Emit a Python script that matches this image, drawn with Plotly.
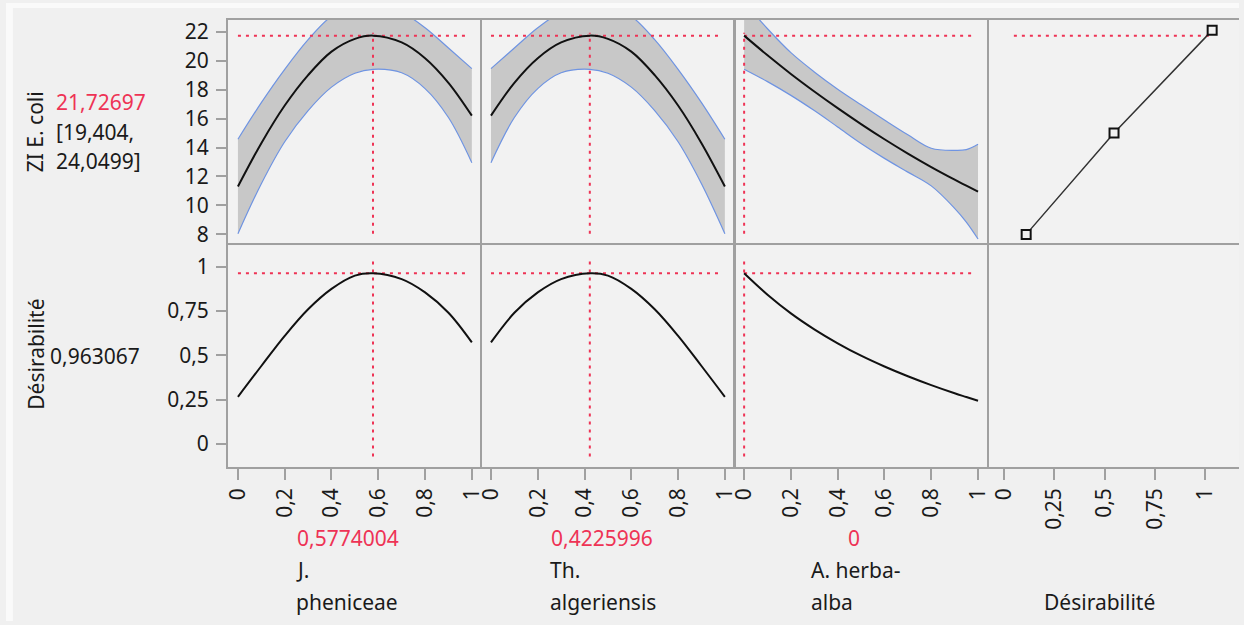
import plotly.graph_objects as go

# ---------------- data ----------------
J_CUR = 0.5774004
T_CUR = 0.4225996
A_CUR = 0.0
ZI_CUR = 21.72697
DES_CUR = 0.963067

# J. pheniceae profile (response ZI E. coli)
j_x = [0, 0.1, 0.2, 0.3, 0.4, 0.5, 0.5774, 0.7, 0.8, 0.9, 1.0]
j_mean = [11.31, 14.3, 16.9, 19.0, 20.62, 21.5, 21.727, 21.26, 20.17, 18.47, 16.2]
j_upper = [14.57, 17.1, 19.4, 21.45, 23.07, 23.87, 24.05, 23.36, 22.27, 20.87, 19.45]
j_lower = [8.05, 11.5, 14.4, 16.55, 18.17, 19.13, 19.40, 19.16, 18.07, 16.07, 12.95]
j_des = [0.266, 0.44, 0.61, 0.76, 0.875, 0.95, 0.963, 0.93, 0.855, 0.74, 0.573]

# Th. algeriensis profile
t_x = [0, 0.1, 0.2, 0.3, 0.4226, 0.5, 0.6, 0.7, 0.8, 0.9, 1.0]
t_mean = [16.2, 18.47, 20.17, 21.26, 21.727, 21.5, 20.62, 19.0, 16.9, 14.3, 11.31]
t_upper = [19.45, 20.87, 22.27, 23.36, 24.05, 23.87, 23.07, 21.45, 19.4, 17.1, 14.57]
t_lower = [12.95, 16.07, 18.07, 19.16, 19.40, 19.13, 18.17, 16.55, 14.4, 11.5, 8.05]
t_des = [0.573, 0.74, 0.855, 0.93, 0.963, 0.95, 0.875, 0.76, 0.61, 0.44, 0.266]

# A. herba-alba profile
a_x = [0, 0.1, 0.2, 0.3, 0.4, 0.5, 0.6, 0.7, 0.8, 0.9, 0.95, 1.0]
a_mean = [21.727, 20.37, 19.08, 17.87, 16.72, 15.62, 14.57, 13.58, 12.65, 11.78, 11.36, 10.95]
a_upper = [24.05, 22.2, 20.55, 19.22, 18.03, 16.95, 15.9, 14.88, 13.95, 13.8, 13.85, 14.22]
a_lower = [19.41, 18.55, 17.6, 16.55, 15.42, 14.28, 13.25, 12.3, 11.35, 9.8, 8.85, 7.68]
a_des = [0.963, 0.842, 0.737, 0.647, 0.568, 0.498, 0.437, 0.382, 0.332, 0.286, 0.265, 0.244]

# Desirability function (desirability vs response)
dfun_des = [0.111, 0.547, 1.034]
dfun_resp = [8, 15, 22.09]

# reference line spans
ZI_SPAN = [8.05, 21.93]
DES_SPAN = [-0.07, 1.05]
FAC_SPAN = [0, 0.99]
DFN_SPAN = [0.05, 1.034]

# tick labels
fac_ticks = [0, 0.2, 0.4, 0.6, 0.8, 1]
fac_ticktext = ["0", "0,2", "0,4", "0,6", "0,8", "1"]
des_ticks = [0, 0.25, 0.5, 0.75, 1]
des_ticktext = ["0", "0,25", "0,5", "0,75", "1"]
zi_ticks = [8, 10, 12, 14, 16, 18, 20, 22]
zi_ticktext = ["8", "10", "12", "14", "16", "18", "20", "22"]

label_line1 = ["J.", "Th.", "A. herba-", ""]
label_line2 = ["pheniceae", "algeriensis", "alba", "Désirabilité"]
factor_values = ["0,5774004", "0,4225996", "0"]

# ---------------- styling ----------------
W, H = 1244, 625
FONT = "Noto Sans"
FS = 21
BG = "#f0f0f0"
AXC = "#a0a0a0"
RED = "#ee3355"
BLUE = "#6f94e2"
BAND = "#c8c8c8"
TXT = "#1a1a1a"
DOT = "3px,5px"

XB = [223, 479, 735, 991, 1247]   # border line centres (px)
YB = [16, 244, 470]
xranges = [[-0.0424, 1.0339], [-0.0394, 1.0369], [-0.0369, 1.0394], [-0.0723, 1.1672]]
yranges = [[7.3854, 22.8195], [-0.1283, 1.121]]


def px(x):
    return x / W


def py(y):
    return 1 - y / H


fig = go.Figure()


def ax_names(idx):
    s = "" if idx == 1 else str(idx)
    return "x" + s, "y" + s, "xaxis" + s, "yaxis" + s


layout_axes = {}
for r in range(2):
    for c in range(4):
        idx = r * 4 + c + 1
        xn, yn, xk, yk = ax_names(idx)
        x0d, x1d = px(XB[c] + 1), min(1.0, px(XB[c + 1] - 1))
        xa = dict(domain=[x0d, x1d], anchor=yn, range=xranges[c],
                  showline=True, linecolor=AXC, linewidth=2, mirror=True,
                  showgrid=False, zeroline=False, fixedrange=True)
        if r == 1:
            xa.update(ticks="outside", ticklen=11, tickwidth=2, tickcolor=AXC,
                      tickangle=-90, tickfont=dict(family=FONT, size=FS, color=TXT),
                      tickmode="array",
                      tickvals=des_ticks if c == 3 else fac_ticks,
                      ticktext=des_ticktext if c == 3 else fac_ticktext)
        else:
            xa.update(ticks="", showticklabels=False)
        ya = dict(domain=[py(YB[r + 1] - 1), py(YB[r] + 1)], anchor=xn, range=yranges[r],
                  showline=True, linecolor=AXC, linewidth=2, mirror=(c != 3),
                  showgrid=False, zeroline=False, fixedrange=True)
        if c == 0:
            ya.update(ticks="outside", ticklen=10, tickwidth=2, tickcolor=AXC,
                      ticklabelstandoff=3,
                      tickfont=dict(family=FONT, size=FS, color=TXT), tickmode="array",
                      tickvals=zi_ticks if r == 0 else des_ticks,
                      ticktext=zi_ticktext if r == 0 else des_ticktext)
        else:
            ya.update(ticks="", showticklabels=False)
        layout_axes[xk] = xa
        layout_axes[yk] = ya


def add(trace, idx):
    xn, yn, _, _ = ax_names(idx)
    trace.update(xaxis=xn, yaxis=yn, showlegend=False, hoverinfo="skip")
    fig.add_trace(trace)


profiles = [
    (j_x, j_mean, j_upper, j_lower, j_des, J_CUR),
    (t_x, t_mean, t_upper, t_lower, t_des, T_CUR),
    (a_x, a_mean, a_upper, a_lower, a_des, A_CUR),
]

for c, (xs, mean, up, lo, des, cur) in enumerate(profiles):
    top = c + 1
    bot = c + 5
    add(go.Scatter(x=xs, y=lo, mode="lines", line=dict(color=BLUE, width=1.2, shape="spline")), top)
    add(go.Scatter(x=xs, y=up, mode="lines", fill="tonexty", fillcolor=BAND,
                   line=dict(color=BLUE, width=1.2, shape="spline")), top)
    add(go.Scatter(x=FAC_SPAN, y=[ZI_CUR, ZI_CUR], mode="lines",
                   line=dict(color=RED, width=2, dash=DOT)), top)
    add(go.Scatter(x=[cur, cur], y=ZI_SPAN, mode="lines",
                   line=dict(color=RED, width=2, dash=DOT)), top)
    add(go.Scatter(x=xs, y=mean, mode="lines", line=dict(color="#111111", width=2, shape="spline")), top)

    add(go.Scatter(x=FAC_SPAN, y=[DES_CUR, DES_CUR], mode="lines",
                   line=dict(color=RED, width=2, dash=DOT)), bot)
    add(go.Scatter(x=[cur, cur], y=DES_SPAN, mode="lines",
                   line=dict(color=RED, width=2, dash=DOT)), bot)
    add(go.Scatter(x=xs, y=des, mode="lines", line=dict(color="#111111", width=2, shape="spline")), bot)

# desirability function panel
add(go.Scatter(x=DFN_SPAN, y=[ZI_CUR, ZI_CUR], mode="lines",
               line=dict(color=RED, width=2, dash=DOT)), 4)
add(go.Scatter(x=dfun_des, y=dfun_resp, mode="lines+markers",
               line=dict(color="#333333", width=1.5),
               marker=dict(symbol="square", size=9, color=BG,
                           line=dict(color="#111111", width=2))), 4)
# empty bottom-right cell (keeps its axes drawn)
add(go.Scatter(x=[None], y=[None], mode="lines"), 8)

annotations = []


def ann(text, x, y, color=TXT, xanchor="center", angle=0):
    annotations.append(dict(text=text, x=px(x), y=py(y), xref="paper", yref="paper",
                            showarrow=False, xanchor=xanchor, yanchor="middle",
                            textangle=angle,
                            font=dict(family=FONT, size=FS, color=color)))


ann("ZI E. coli", 29, 130, angle=-90)
ann("21,72697", 48, 100, color=RED, xanchor="left")
ann("[19,404,", 48, 130, xanchor="left")
ann("24,0499]", 48, 160, xanchor="left")
ann("Désirabilité", 30, 355, angle=-90)
ann("0,963067", 42, 357, xanchor="left")

val_cx = [345, 601, 856]
for c in range(3):
    ann(factor_values[c], val_cx[c], 541, color=RED)
lab_left = [291, 547, 810, 1045]
for c in range(4):
    if label_line1[c]:
        ann(label_line1[c], lab_left[c], 573, xanchor="left")
    ann(label_line2[c], lab_left[c], 606, xanchor="left")

shapes = [
    dict(type="rect", xref="paper", yref="paper", x0=0, x1=px(7), y0=0, y1=1,
         fillcolor="#fafafa", line=dict(width=0), layer="below"),
    dict(type="rect", xref="paper", yref="paper", x0=0, x1=1, y0=py(5), y1=1,
         fillcolor="#fafafa", line=dict(width=0), layer="below"),
]

fig.update_layout(
    width=W, height=H, margin=dict(l=0, r=0, t=0, b=0),
    paper_bgcolor=BG, plot_bgcolor="#f2f2f2",
    annotations=annotations, shapes=shapes,
    font=dict(family=FONT, size=FS, color=TXT),
    **layout_axes,
)

fig.write_html("out.html", config={"displayModeBar": False})
